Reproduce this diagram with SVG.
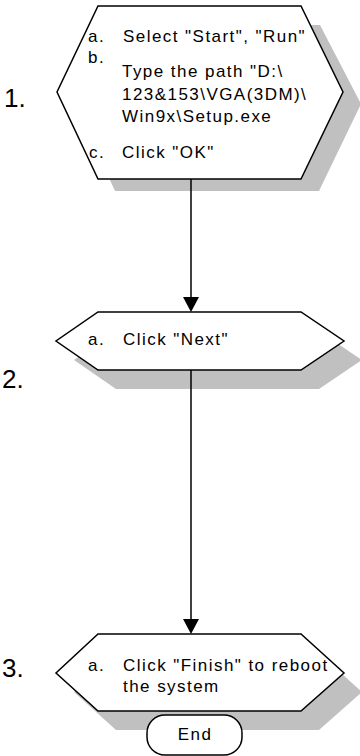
<svg xmlns="http://www.w3.org/2000/svg" width="360" height="756" viewBox="0 0 360 756">
<defs>
<style>
.shadow{fill:#c0c0c0;stroke:none}
.hex{fill:#fff;stroke:#000;stroke-width:1.5;stroke-linejoin:miter}
.t{font-family:"Liberation Sans",Arial,sans-serif;font-size:17px;letter-spacing:1.45px;fill:#000}
.num{font-family:"Liberation Sans",Arial,sans-serif;font-size:26px;fill:#000}
.conn{stroke:#000;stroke-width:1.5;fill:none}
.head{fill:#000;stroke:none}
</style>
</defs>
<rect width="360" height="756" fill="#fff"/>
<g id="step1">
<polygon class="shadow" points="116,25 320,25 361,104 319,191 115,191 75,104"/>
<polygon class="hex" points="98,6 301,6 343,92 301,179 98,179 57,92"/>
<text class="t" x="88" y="42">a.</text>
<text class="t" x="123" y="42">Select "Start", "Run"</text>
<text class="t" x="88" y="63">b.</text>
<text class="t" x="122" y="77">Type the path "D:\</text>
<text class="t" x="122" y="100">123&amp;153\VGA(3DM)\</text>
<text class="t" x="122" y="122">Win9x\Setup.exe</text>
<text class="t" x="89" y="158">c.</text>
<text class="t" x="122" y="158">Click "OK"</text>
<text class="num" x="4" y="107">1.</text>
</g>
<g id="step2">
<polygon class="shadow" points="116,331 319,331 362,360 319,389 116,389 74,360"/>
<polygon class="hex" points="98,312 301,312 344,341 301,370 98,370 56,341"/>
<text class="t" x="88" y="345">a.</text>
<text class="t" x="123" y="345">Click "Next"</text>
<text class="num" x="2" y="388">2.</text>
</g>
<g id="step3">
<polygon class="shadow" points="116,653 319,653 362,692 319,730 116,730 74,692"/>
<polygon class="hex" points="98,634 301,634 344,673 301,711 98,711 56,673"/>
<text class="t" x="88" y="671">a.</text>
<text class="t" x="123" y="671">Click "Finish" to reboot</text>
<text class="t" x="123" y="692">the system</text>
<text class="num" x="2" y="677">3.</text>
</g>
<g id="end">
<rect x="147" y="715" width="95" height="40" rx="18" ry="18" fill="#fff" stroke="#000" stroke-width="1.5"/>
<text class="t" x="195" y="740" text-anchor="middle">End</text>
</g>
<g id="connectors">
<line class="conn" x1="191" y1="179" x2="191" y2="298"/>
<polygon class="head" points="183,297 199,297 191,312"/>
<line class="conn" x1="191" y1="370" x2="191" y2="620"/>
<polygon class="head" points="183,619 199,619 191,634"/>
</g>
</svg>
